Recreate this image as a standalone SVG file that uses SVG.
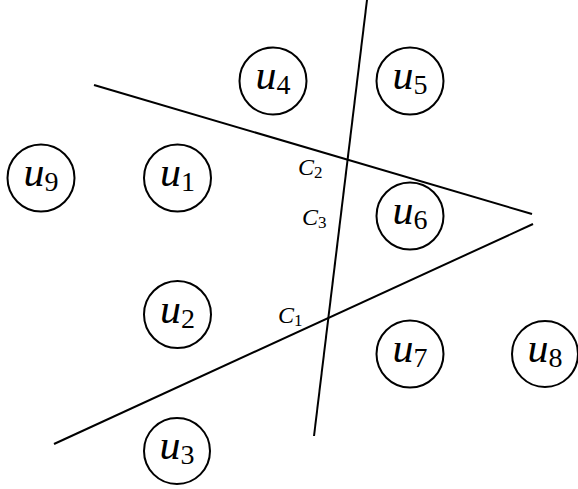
<svg xmlns="http://www.w3.org/2000/svg" width="578" height="489" viewBox="0 0 578 489">
<style>
.node circle{fill:#fff;stroke:#000;stroke-width:2}
.lbl{font-family:"Liberation Serif",serif;font-size:42px;text-anchor:middle;fill:#000}
.lbl .v{font-style:italic}
.lbl .s{font-size:28px;font-style:normal}
.cl{font-family:"Liberation Serif",serif;font-size:24px;fill:#000}
.cl .v{font-style:italic}
.cl .s{font-size:17px}
.edges line{stroke:#000;stroke-width:2;fill:none}
</style>
<rect width="578" height="489" fill="#fff"/>
<g class="edges" id="connectors">
<line x1="94" y1="85" x2="532" y2="214"/>
<line x1="533" y1="224" x2="54" y2="444"/>
<line x1="367" y1="0" x2="314" y2="436"/>
</g>
<g id="u1" class="node"><circle cx="177.5" cy="178" r="33.5"/><text class="lbl" x="177.5" y="186"><tspan class="v">u</tspan><tspan class="s" dy="5">1</tspan></text></g>
<g id="u2" class="node"><circle cx="177.5" cy="314.5" r="33.5"/><text class="lbl" x="177.5" y="322.5"><tspan class="v">u</tspan><tspan class="s" dy="5">2</tspan></text></g>
<g id="u3" class="node"><circle cx="177" cy="451" r="33"/><text class="lbl" x="177" y="459"><tspan class="v">u</tspan><tspan class="s" dy="5">3</tspan></text></g>
<g id="u4" class="node"><circle cx="273" cy="81" r="33.5"/><text class="lbl" x="273" y="89"><tspan class="v">u</tspan><tspan class="s" dy="5">4</tspan></text></g>
<g id="u5" class="node"><circle cx="410" cy="81" r="33.5"/><text class="lbl" x="410" y="89"><tspan class="v">u</tspan><tspan class="s" dy="5">5</tspan></text></g>
<g id="u6" class="node"><circle cx="410" cy="216" r="33.5"/><text class="lbl" x="410" y="224"><tspan class="v">u</tspan><tspan class="s" dy="5">6</tspan></text></g>
<g id="u7" class="node"><circle cx="410" cy="354" r="33.5"/><text class="lbl" x="410" y="362"><tspan class="v">u</tspan><tspan class="s" dy="5">7</tspan></text></g>
<g id="u8" class="node"><circle cx="545" cy="354" r="33"/><text class="lbl" x="545" y="362"><tspan class="v">u</tspan><tspan class="s" dy="5">8</tspan></text></g>
<g id="u9" class="node"><circle cx="41" cy="178" r="33.5"/><text class="lbl" x="41" y="186"><tspan class="v">u</tspan><tspan class="s" dy="5">9</tspan></text></g>
<g id="labels">
<text class="cl" x="298" y="175"><tspan class="v">C</tspan><tspan class="s" dy="3">2</tspan></text>
<text class="cl" x="302" y="225"><tspan class="v">C</tspan><tspan class="s" dy="3">3</tspan></text>
<text class="cl" x="278" y="323"><tspan class="v">C</tspan><tspan class="s" dy="3">1</tspan></text>
</g>
</svg>
